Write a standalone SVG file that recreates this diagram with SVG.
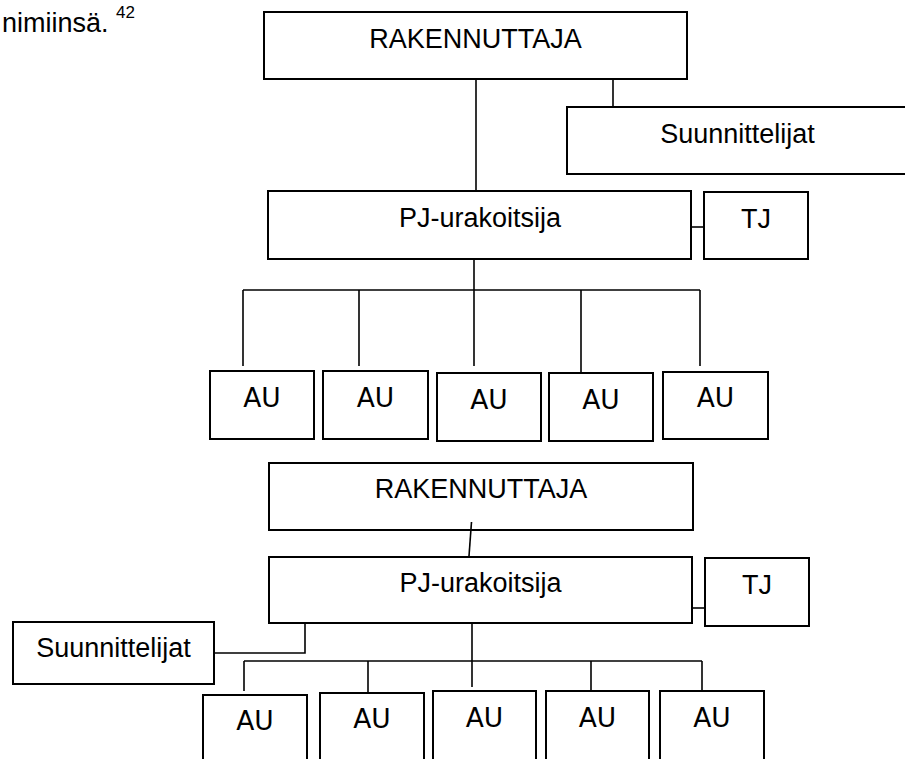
<svg xmlns="http://www.w3.org/2000/svg" width="905" height="759" viewBox="0 0 905 759">
<style>
.box{fill:#fff;stroke:#000;stroke-width:2}
.ln{fill:none;stroke:#000;stroke-width:1.6}
.t{font-family:"Liberation Sans",Arial,sans-serif;font-size:27px;fill:#000;text-anchor:middle}
.au{font-family:"DejaVu Sans",Verdana,sans-serif;font-size:26.5px;fill:#000;text-anchor:middle}
</style>
<rect width="905" height="759" fill="#fff"/>
<text x="2" y="32" font-family="Liberation Sans, Arial, sans-serif" font-size="27">nimiinsä. <tspan font-size="17" dy="-14">42</tspan></text>
<g id="rak1"><rect class="box" x="264" y="12" width="423" height="67"/><text class="t" x="475.5" y="48">RAKENNUTTAJA</text></g>
<g id="suun1"><rect class="box" x="567" y="107" width="345" height="67"/><text class="t" x="737.5" y="143">Suunnittelijat</text></g>
<g id="pj1"><rect class="box" x="268" y="191" width="423" height="68"/><text class="t" x="480" y="227">PJ-urakoitsija</text></g>
<g id="tj1"><rect class="box" x="704" y="192" width="104" height="67"/><text class="t" x="756" y="228">TJ</text></g>
<g id="au1"><rect class="box" x="210" y="371" width="104" height="68"/><text class="au" x="262" y="407">AU</text></g>
<g id="au2"><rect class="box" x="323" y="371" width="105" height="68"/><text class="au" x="375.5" y="407">AU</text></g>
<g id="au3"><rect class="box" x="437" y="373" width="104" height="68"/><text class="au" x="489" y="409">AU</text></g>
<g id="au4"><rect class="box" x="549" y="373" width="104" height="68"/><text class="au" x="601" y="409">AU</text></g>
<g id="au5"><rect class="box" x="663" y="372" width="105" height="67"/><text class="au" x="715.5" y="407">AU</text></g>
<g id="rak2"><rect class="box" x="269" y="463" width="424" height="67"/><text class="t" x="481" y="498">RAKENNUTTAJA</text></g>
<g id="pj2"><rect class="box" x="269" y="557" width="423" height="66"/><text class="t" x="480.5" y="592">PJ-urakoitsija</text></g>
<g id="tj2"><rect class="box" x="705" y="558" width="104" height="68"/><text class="t" x="757" y="594">TJ</text></g>
<g id="suun2"><rect class="box" x="13" y="622" width="201" height="62"/><text class="t" x="113.5" y="657">Suunnittelijat</text></g>
<g id="au6"><rect class="box" x="203" y="695" width="104" height="80"/><text class="au" x="255" y="730">AU</text></g>
<g id="au7"><rect class="box" x="320" y="693" width="104" height="80"/><text class="au" x="372" y="728">AU</text></g>
<g id="au8"><rect class="box" x="433" y="691" width="103" height="80"/><text class="au" x="484.5" y="727">AU</text></g>
<g id="au9"><rect class="box" x="546" y="691" width="103" height="80"/><text class="au" x="597.5" y="727">AU</text></g>
<g id="au10"><rect class="box" x="660" y="691" width="104" height="80"/><text class="au" x="712" y="727">AU</text></g>
<g id="connectors">
<line class="ln" x1="476" y1="80" x2="476" y2="190"/>
<line class="ln" x1="613" y1="80" x2="613" y2="106"/>
<line class="ln" x1="692" y1="227" x2="703" y2="227"/>
<line class="ln" x1="474" y1="260" x2="474" y2="290"/>
<line class="ln" x1="243" y1="290" x2="700" y2="290"/>
<line class="ln" x1="243" y1="290" x2="243" y2="366"/>
<line class="ln" x1="359" y1="290" x2="359" y2="366"/>
<line class="ln" x1="474" y1="290" x2="474" y2="366"/>
<line class="ln" x1="581" y1="290" x2="581" y2="372"/>
<line class="ln" x1="700" y1="290" x2="700" y2="366"/>
<line class="ln" x1="471.5" y1="522" x2="469" y2="556"/>
<line class="ln" x1="693" y1="608" x2="704" y2="608"/>
<polyline class="ln" points="305,624 305,653 215,653"/>
<line class="ln" x1="472" y1="624" x2="472" y2="687"/>
<line class="ln" x1="244" y1="661" x2="702" y2="661"/>
<line class="ln" x1="244" y1="661" x2="244" y2="691"/>
<line class="ln" x1="368" y1="661" x2="368" y2="692"/>
<line class="ln" x1="591" y1="661" x2="591" y2="690"/>
<line class="ln" x1="702" y1="661" x2="702" y2="690"/>
</g>
</svg>
